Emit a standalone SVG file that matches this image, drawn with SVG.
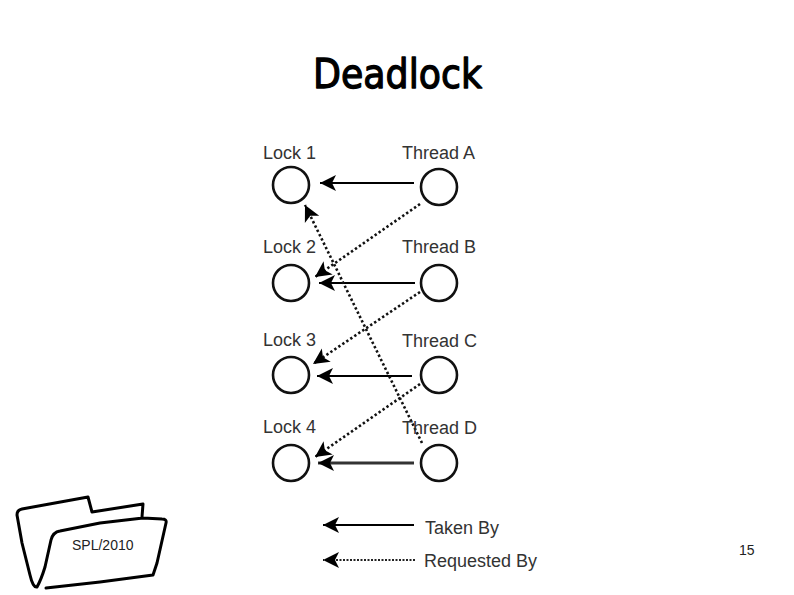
<svg xmlns="http://www.w3.org/2000/svg" width="794" height="595" viewBox="0 0 794 595">
<style>
.n{fill:#fff;stroke:#111;stroke-width:2.6}
.l{font-family:"Liberation Sans",Arial,sans-serif;font-size:18px;fill:#333}
.s{fill:none;stroke:#000;stroke-width:2}
.d{fill:none;stroke:#111;stroke-width:2.6;stroke-dasharray:2.4 2.4}
.f{font-family:"Liberation Sans",Arial,sans-serif;font-size:14px;fill:#222}
</style>
<defs>
<marker id="a" markerUnits="userSpaceOnUse" markerWidth="18" markerHeight="18" refX="16" refY="8" orient="auto" viewBox="0 0 18 16">
<path d="M16 8L0 0L4 8L0 16Z" fill="#000"/>
</marker>
</defs>
<rect width="794" height="595" fill="#fff"/>
<text x="397.500" y="88" text-anchor="middle" font-family="'DejaVu Sans',sans-serif" font-size="41" stroke="#000" stroke-width="1.300" stroke-linejoin="round" textLength="169" lengthAdjust="spacingAndGlyphs" fill="#000">Deadlock</text>
<g id="connectors">
<path class="s" d="M414 183H320" marker-end="url(#a)"/>
<path class="d" d="M420 204L315 277" marker-end="url(#a)"/>
<path class="s" d="M415 283H319" marker-end="url(#a)"/>
<path class="d" d="M420 292L313 364" marker-end="url(#a)"/>
<path class="s" d="M412 376H317" marker-end="url(#a)"/>
<path class="d" d="M420 384L315 457" marker-end="url(#a)"/>
<path d="M414 463H318" fill="none" stroke="#333" stroke-width="3" marker-end="url(#a)"/>
<path class="d" d="M422 443L305 205" marker-end="url(#a)"/>
<path class="s" d="M414 525H323" marker-end="url(#a)"/>
<path d="M415 560H323" fill="none" stroke="#222" stroke-width="2" stroke-dasharray="2 1.500" marker-end="url(#a)"/>
</g>
<g id="lock1"><circle class="n" cx="291" cy="185" r="18"/><text class="l" x="263" y="159">Lock 1</text></g>
<g id="threadA"><circle class="n" cx="439" cy="187" r="18"/><text class="l" x="402" y="159">Thread A</text></g>
<g id="lock2"><circle class="n" cx="291" cy="283" r="18"/><text class="l" x="263" y="253">Lock 2</text></g>
<g id="threadB"><circle class="n" cx="439" cy="283" r="18"/><text class="l" x="402" y="253">Thread B</text></g>
<g id="lock3"><circle class="n" cx="291" cy="375" r="18"/><text class="l" x="263" y="346">Lock 3</text></g>
<g id="threadC"><circle class="n" cx="439" cy="375" r="18"/><text class="l" x="402" y="347">Thread C</text></g>
<g id="lock4"><circle class="n" cx="291" cy="463" r="18"/><text class="l" x="263" y="433">Lock 4</text></g>
<g id="threadD"><circle class="n" cx="439" cy="463" r="18"/><text class="l" x="402" y="434">Thread D</text></g>
<g id="legend"><text class="l" x="425" y="534">Taken By</text><text class="l" x="424" y="567">Requested By</text></g>
<g id="folder">
<path d="M46 588L100 582L153 575L157 563L166 523Q167 519 162 519L143 518L100 523L60 531Q53 532 51 540L45 567Q41 580 37 587Q33 588 30 575L22 543L17 515Q17 510 22 509L88 497L92 512L143 504L142 517" fill="none" stroke="#000" stroke-width="3" stroke-linejoin="round" stroke-linecap="round"/>
<text class="f" x="72" y="550">SPL/2010</text>
</g>
<text class="f" x="739" y="555">15</text>
</svg>
